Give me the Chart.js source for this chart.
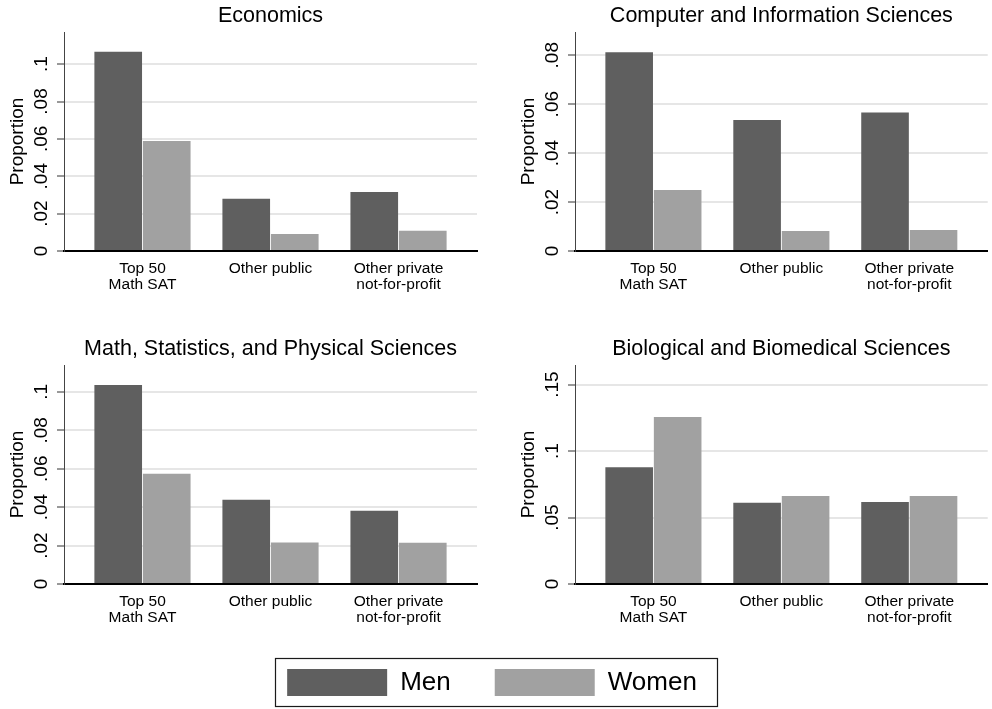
<!DOCTYPE html>
<html>
<head>
<meta charset="utf-8">
<title>Share of students by field, institution type and sex</title>
<script src="https://cdn.jsdelivr.net/npm/chart.js@4/dist/chart.umd.min.js"></script>
<style>
  html, body { margin: 0; padding: 0; background: #fff; overflow: hidden; }
  #page { position: relative; width: 992px; height: 709px; overflow: hidden; }
  canvas { position: absolute; }
</style>
</head>
<body>
<div id="page">
  <canvas id="econ" width="496" height="300" style="left:0;top:0"></canvas>
  <canvas id="cis"  width="481" height="300" style="left:511px;top:0"></canvas>
  <canvas id="math" width="496" height="300" style="left:0;top:333px"></canvas>
  <canvas id="bio"  width="481" height="300" style="left:511px;top:333px"></canvas>
  <canvas id="key"  width="620" height="176" style="left:182px;top:625px"></canvas>
</div>
<script>
// Institution groups along the x axis (multi-line labels as arrays)
const categories = [['Top 50', 'Math SAT'], 'Other public', ['Other private', 'not-for-profit']];

const seriesNames = ['Men', 'Women'];

// Proportion of students in each field
const econMen   = [0.1066, 0.0279, 0.0316];
const econWomen = [0.0589, 0.0091, 0.0109];

const cisMen    = [0.0812, 0.0535, 0.0566];
const cisWomen  = [0.0249, 0.0082, 0.0086];

const mathMen   = [0.1036, 0.0438, 0.0381];
const mathWomen = [0.0574, 0.0216, 0.0215];

const bioMen    = [0.0879, 0.0611, 0.0618];
const bioWomen  = [0.1257, 0.0663, 0.0663];

// Y axis extents and tick steps per panel
const econAxis = { max: 0.1172, step: 0.02 };
const cisAxis  = { max: 0.0895, step: 0.02 };
const mathAxis = { max: 0.114,  step: 0.02 };
const bioAxis  = { max: 0.1648, step: 0.05 };

const FONT = "'Liberation Sans', Arial, Helvetica, sans-serif";
Chart.defaults.font.family = FONT;
Chart.defaults.color = '#000';

const MEN_COLOR = '#5f5f5f';
const WOMEN_COLOR = '#a1a1a1';

// Stata-style numbers: 0, .02, .1 ...
function shortTick(v) {
  const r = Math.round(v * 1000) / 1000;
  if (r === 0) return '0';
  return String(r).replace(/^0\./, '.');
}

function toPoints(values) {
  return values.map((v, i) => ({ x: i, y: v }));
}

function makePanel(id, title, men, women, axis, padRight) {
  return new Chart(document.getElementById(id), {
    type: 'bar',
    data: {
      datasets: [
        { label: seriesNames[0], data: toPoints(men),   backgroundColor: MEN_COLOR,   borderWidth: 0 },
        { label: seriesNames[1], data: toPoints(women), backgroundColor: WOMEN_COLOR, borderWidth: 0 }
      ]
    },
    options: {
      responsive: false,
      animation: false,
      events: [],
      layout: { padding: { left: 0, right: padRight, top: 0, bottom: 0 } },
      datasets: { bar: { categoryPercentage: 0.758, barPercentage: 0.982 } },
      plugins: {
        legend: { display: false },
        tooltip: { enabled: false },
        title: {
          display: true,
          text: title,
          fullSize: false,
          color: '#000',
          font: { size: 21.5, weight: 'normal' },
          padding: { top: 3.2, bottom: 3.0 }
        }
      },
      scales: {
        x: {
          type: 'linear',
          min: -0.613,
          max: 2.613,
          offset: false,
          grid: { display: false, drawTicks: false },
          border: { display: true, color: '#000', width: 2 },
          afterBuildTicks: (s) => { s.ticks = categories.map((_, i) => ({ value: i })); },
          afterFit: (s) => { s.height = 49; },
          ticks: {
            callback: (v) => categories[v],
            autoSkip: false,
            maxRotation: 0,
            padding: 10,
            color: '#000',
            font: { size: 15.5, lineHeight: '16px' }
          }
        },
        y: {
          min: 0,
          max: axis.max,
          grid: { color: '#e6e6e6', lineWidth: 2, drawTicks: true, tickLength: 7, tickColor: '#333', tickWidth: 1 },
          border: { display: true, color: '#444', width: 1 },
          afterFit: (s) => { s.width = 64; },
          ticks: {
            stepSize: axis.step,
            includeBounds: false,
            callback: shortTick,
            minRotation: 90,
            maxRotation: 90,
            crossAlign: 'center',
            padding: 2.5,
            color: '#000',
            font: { size: 19 }
          },
          title: {
            display: true,
            text: 'Proportion',
            color: '#000',
            font: { size: 19 },
            padding: { top: 6.4, bottom: 0 }
          }
        }
      }
    }
  });
}

makePanel('econ', 'Economics', econMen, econWomen, econAxis, 19);
makePanel('cis', 'Computer and Information Sciences', cisMen, cisWomen, cisAxis, 4.3);
makePanel('math', 'Math, Statistics, and Physical Sciences', mathMen, mathWomen, mathAxis, 19);
makePanel('bio', 'Biological and Biomedical Sciences', bioMen, bioWomen, bioAxis, 4.3);

// Frame drawn around the shared key
const keyFrame = {
  id: 'keyFrame',
  afterDraw(chart) {
    const hb = chart.legend && chart.legend.legendHitBoxes;
    if (!hb || hb.length < 2) return;
    const first = hb[0], last = hb[hb.length - 1];
    const left = first.left - 11.7;
    const top = first.top - 10.7;
    const right = last.left + last.width + 21;
    const bottom = first.top + first.height + 10.3;
    const ctx = chart.ctx;
    ctx.save();
    ctx.strokeStyle = '#1a1a1a';
    ctx.lineWidth = 1.2;
    ctx.strokeRect(Math.round(left) + 0.5, Math.round(top) + 0.5, Math.round(right - left), Math.round(bottom - top));
    ctx.restore();
  }
};

new Chart(document.getElementById('key'), {
  type: 'bar',
  data: {
    labels: [],
    datasets: [
      { label: seriesNames[0], data: [], backgroundColor: MEN_COLOR,   borderWidth: 0 },
      { label: seriesNames[1], data: [], backgroundColor: WOMEN_COLOR, borderWidth: 0 }
    ]
  },
  options: {
    responsive: false,
    animation: false,
    events: [],
    scales: { x: { display: false }, y: { display: false } },
    plugins: {
      tooltip: { enabled: false },
      legend: {
        display: true,
        position: 'top',
        labels: { boxWidth: 100, boxHeight: 27, padding: 44, color: '#000', font: { size: 26 } }
      }
    }
  },
  plugins: [keyFrame]
});
</script>
</body>
</html>
